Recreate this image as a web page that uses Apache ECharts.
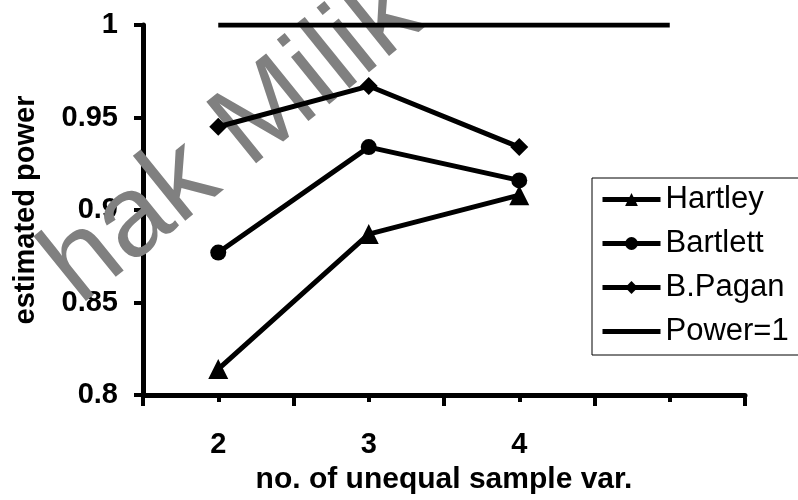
<!DOCTYPE html>
<html>
<head>
<meta charset="utf-8">
<script src="https://cdn.jsdelivr.net/npm/echarts@6/dist/echarts.min.js"></script>
<style>html,body{margin:0;padding:0;background:#fff;}#c{width:798px;height:500px;}</style>
</head>
<body>
<div id="c"></div>
<script>
var categories = ['2', '3', '4', ''];
var hartley = [0.814, 0.887, 0.908];
var bartlett = [0.877, 0.934, 0.916];
var bpagan = [0.945, 0.967, 0.934];
var powerOne = [1, 1, 1, 1];
var yTicks = { min: 0.8, max: 1, interval: 0.05 };

var FONT = 'Liberation Sans, Arial, sans-serif';
var chart = echarts.init(document.getElementById('c'));
function lineSeries(name, data, symbol, size) {
  return {
    name: name, type: 'line', data: data, symbol: symbol, symbolSize: size,
    showSymbol: symbol !== 'none',
    lineStyle: { color: '#000', width: 5 },
    itemStyle: { color: '#000' },
    z: 3
  };
}
chart.setOption({
  animation: false,
  backgroundColor: '#fff',
  grid: { left: 143, right: 53, top: 25, bottom: 102 },
  graphic: [{
    type: 'text', x: 96, y: 326, rotation: 0.68, z: 1,
    style: { text: 'hak Milik', x: 0, y: 0, fill: '#808080', font: '115px ' + FONT, textAlign: 'left', textVerticalAlign: 'bottom' }
  }],
  legend: {
    left: 592, top: 178, orient: 'vertical',
    data: ['Hartley', 'Bartlett', 'B.Pagan', { name: 'Power=1', itemStyle: { opacity: 0 } }],
    itemWidth: 58, itemHeight: 16, itemGap: 13,
    padding: [6, 40, 8, 8],
    borderColor: '#000', borderWidth: 1,
    backgroundColor: '#fff',
    lineStyle: { width: 5 },
    textStyle: { fontFamily: FONT, fontSize: 31, color: '#000', lineHeight: 30 }
  },
  xAxis: [{
    type: 'category', data: categories, boundaryGap: true,
    axisLine: { lineStyle: { color: '#000', width: 5 } },
    axisTick: { show: true, length: 11, lineStyle: { color: '#000', width: 4 } },
    axisLabel: { fontFamily: FONT, fontSize: 29, fontWeight: 'bold', color: '#000', margin: 35 },
    name: 'no. of unequal sample var.', nameLocation: 'middle', nameGap: 70,
    nameTextStyle: { fontFamily: FONT, fontSize: 30, fontWeight: 'bold', color: '#000' }
  }, {
    type: 'category', data: categories, boundaryGap: true, position: 'bottom',
    axisLine: { show: false },
    axisTick: { show: true, alignWithLabel: true, length: 7, lineStyle: { color: '#000', width: 4 } },
    axisLabel: { show: false }
  }],
  yAxis: {
    type: 'value', min: yTicks.min, max: yTicks.max, interval: yTicks.interval,
    splitLine: { show: false },
    axisLine: { show: true, lineStyle: { color: '#000', width: 5 } },
    axisTick: { show: true, length: 9, lineStyle: { color: '#000', width: 4 } },
    axisLabel: { fontFamily: FONT, fontSize: 29, fontWeight: 'bold', color: '#000', margin: 25 },
    name: 'estimated power', nameLocation: 'middle', nameGap: 103, nameRotate: 90,
    nameTextStyle: { fontFamily: FONT, fontSize: 29, fontWeight: 'bold', color: '#000' }
  },
  series: [
    lineSeries('Hartley', hartley, 'triangle', 20),
    lineSeries('Bartlett', bartlett, 'circle', 16),
    lineSeries('B.Pagan', bpagan, 'diamond', 18),
    lineSeries('Power=1', powerOne, 'none', 0)
  ]
});
</script>
</body>
</html>
